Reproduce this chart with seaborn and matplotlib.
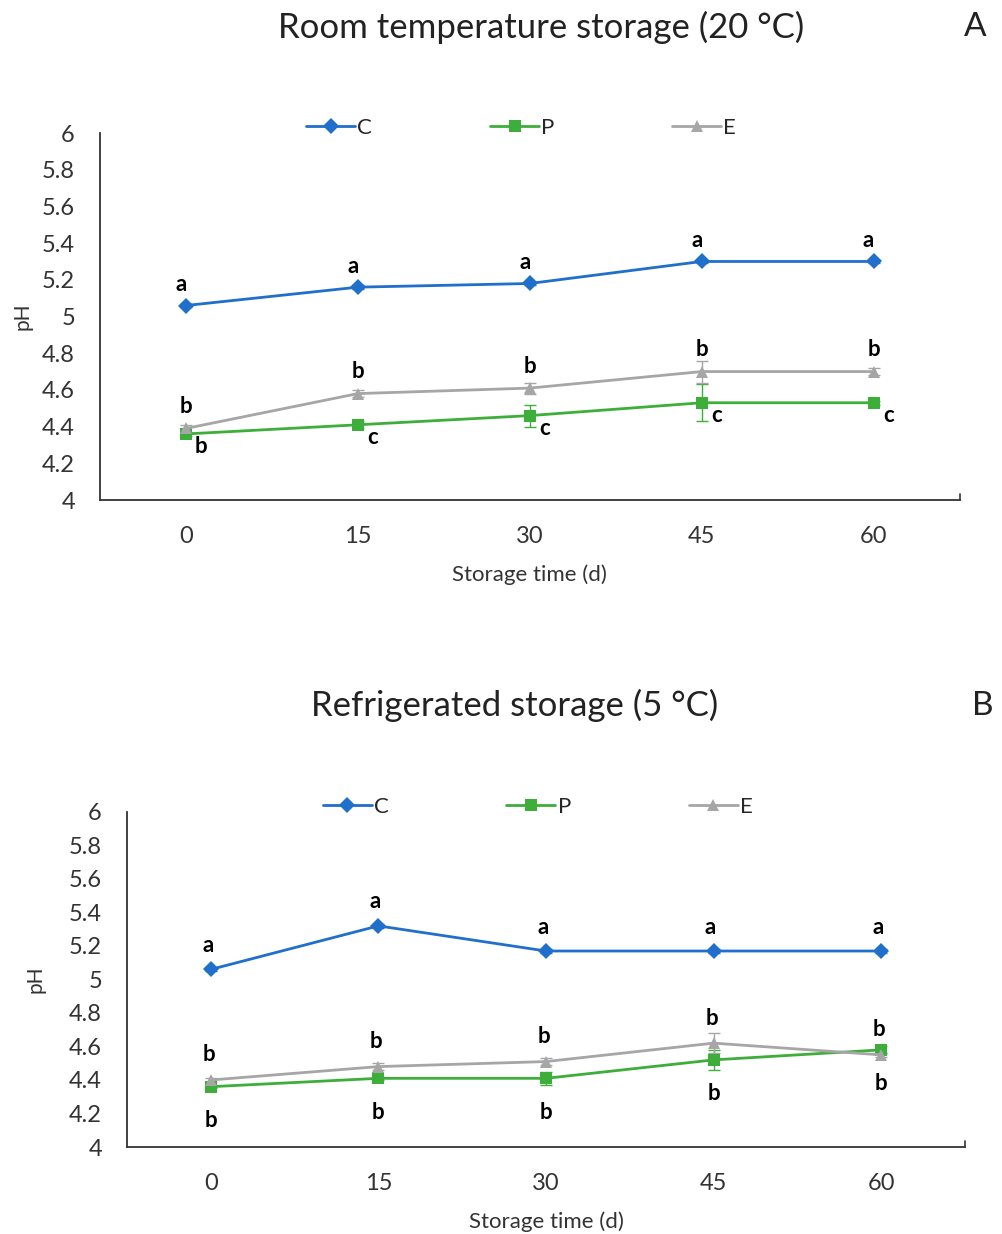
import numpy as np
import pandas as pd
import matplotlib
matplotlib.use("Agg")
import matplotlib.pyplot as plt
import seaborn as sns

sns.set_style("white")
plt.rcParams['font.family'] = ['Lato', 'DejaVu Sans']

# ---------------- data ----------------
days = [0, 15, 30, 45, 60]
treatments = ["C", "P", "E"]

# Room temperature storage (20 °C)
ph_room_C = [5.06, 5.16, 5.18, 5.30, 5.30]
ph_room_P = [4.36, 4.41, 4.46, 4.53, 4.53]
ph_room_E = [4.39, 4.58, 4.61, 4.70, 4.70]
sd_room_C = [0.01, 0.01, 0.01, 0.01, 0.01]
sd_room_P = [0.01, 0.02, 0.06, 0.10, 0.01]
sd_room_E = [0.02, 0.02, 0.03, 0.06, 0.02]
let_room_C = ["a", "a", "a", "a", "a"]
let_room_P = ["b", "c", "c", "c", "c"]
let_room_E = ["b", "b", "b", "b", "b"]

# Refrigerated storage (5 °C)
ph_fridge_C = [5.06, 5.32, 5.17, 5.17, 5.17]
ph_fridge_P = [4.36, 4.41, 4.41, 4.52, 4.58]
ph_fridge_E = [4.40, 4.48, 4.51, 4.62, 4.55]
sd_fridge_C = [0.01, 0.01, 0.01, 0.01, 0.01]
sd_fridge_P = [0.01, 0.01, 0.04, 0.06, 0.02]
sd_fridge_E = [0.01, 0.02, 0.02, 0.06, 0.01]
let_fridge_C = ["a", "a", "a", "a", "a"]
let_fridge_P = ["b", "b", "b", "b", "b"]
let_fridge_E = ["b", "b", "b", "b", "b"]

colors = {"C": "#1F6FCB", "P": "#3DAE3A", "E": "#A6A6A6"}
markers = {"C": "D", "P": "s", "E": "^"}


def make_df(vals, sds):
    rows = []
    for t, v, s in zip(treatments, vals, sds):
        for d, y, e in zip(days, v, s):
            rows.append({"day": d, "pH": y, "sd": e, "trt": t})
    return pd.DataFrame(rows)


fig = plt.figure(figsize=(10.03, 12.34), dpi=100)
axA = fig.add_axes([0.0997, 0.5948, 0.857, 0.2974])
axB = fig.add_axes([0.1266, 0.0705, 0.8355, 0.2715])

panels = [
    (axA, make_df([ph_room_C, ph_room_P, ph_room_E], [sd_room_C, sd_room_P, sd_room_E]),
     [let_room_C, let_room_P, let_room_E],
     {"C": (-5, 21), "P": (15, -13), "E": (0, 22)}),
    (axB, make_df([ph_fridge_C, ph_fridge_P, ph_fridge_E], [sd_fridge_C, sd_fridge_P, sd_fridge_E]),
     [let_fridge_C, let_fridge_P, let_fridge_E],
     {"C": (-3, 24), "P": (0, -34), "E": (-2, 25)}),
]

for ax, df, letters, offs in panels:
    # error bars first, then lines on top
    for t in treatments:
        sub = df[df.trt == t]
        ax.errorbar(sub["day"], sub["pH"], yerr=sub["sd"], fmt="none",
                    ecolor=colors[t], elinewidth=1.0, capsize=4, capthick=1.0, zorder=2)
    sns.lineplot(data=df, x="day", y="pH", hue="trt", style="trt",
                 palette=colors, markers=markers, dashes=False,
                 linewidth=2.0, markersize=8, markeredgewidth=0,
                 ax=ax, zorder=3)
    for t, lets in zip(treatments, letters):
        sub = df[df.trt == t]
        dx, dy = offs[t]
        for d, y, lab in zip(sub["day"], sub["pH"], lets):
            ax.annotate(lab, (d, y), xytext=(dx * 0.72, dy * 0.72), textcoords="offset points",
                        ha="center", va="center", fontsize=16, fontweight="bold", color="black")

    ax.set_xlim(-7.5, 67.5)
    ax.set_ylim(4, 6)
    ax.set_yticks(np.arange(4, 6.01, 0.2))
    ax.set_yticklabels([f"{v:g}" for v in np.round(np.arange(4, 6.01, 0.2), 1)])
    ax.set_xticks(days)
    ax.set_xticklabels([str(d) for d in days])
    ax.tick_params(axis="both", direction="in", length=6, width=1.2, colors="#333333",
                   labelsize=17, labelcolor="#333333")
    ax.tick_params(axis="x", pad=19)
    ax.tick_params(axis="y", pad=18)
    for s in ["top", "right"]:
        ax.spines[s].set_visible(False)
    for s in ["left", "bottom"]:
        ax.spines[s].set_color("#333333")
        ax.spines[s].set_linewidth(1.3)
    # closing tick at the right end of x axis
    ax.plot([67.5, 67.5], [4, 4.035], color="#333333", lw=1.2, clip_on=False)
    ax.set_xlabel("Storage time (d)", fontsize=16, color="#333333", labelpad=12)
    ax.set_ylabel("pH", fontsize=15, color="#333333", labelpad=2)

    h, l = ax.get_legend_handles_labels()
    ax.legend(h, l, loc="center", bbox_to_anchor=(0.49, 1.015), ncol=3, frameon=False,
              fontsize=16, handlelength=2.2, handletextpad=0.1, columnspacing=5.3,
              borderaxespad=0)

axA.yaxis.set_label_coords(-0.078, 0.5)
axB.yaxis.set_label_coords(-0.097, 0.5)

fig.text(0.54, 0.978, "Room temperature storage (20 °C)", ha="center", va="center",
         fontsize=25, color="#222222")
fig.text(0.972, 0.978, "A", ha="center", va="center", fontsize=24, color="#222222")
fig.text(0.513, 0.428, "Refrigerated storage (5 °C)", ha="center", va="center",
         fontsize=25, color="#222222")
fig.text(0.98, 0.428, "B", ha="center", va="center", fontsize=24, color="#222222")

fig.savefig("out.png", dpi=100, facecolor="white")
